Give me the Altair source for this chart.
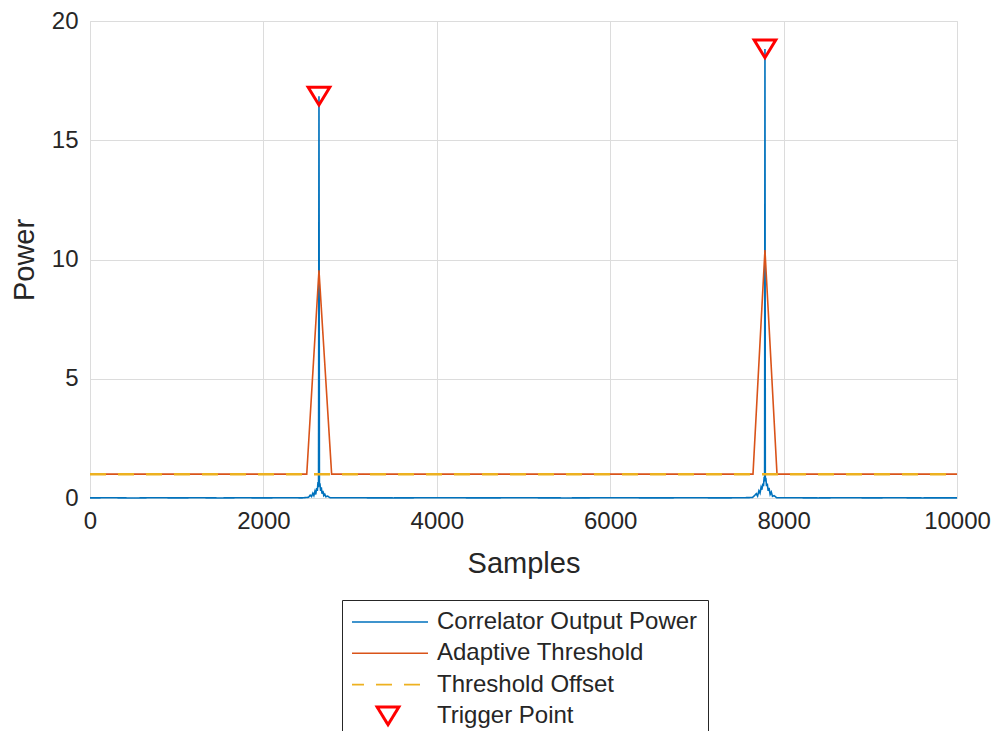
import altair as alt
import pandas as pd

# ---- data ----
SERIES = ["Correlator Output Power", "Adaptive Threshold", "Threshold Offset", "Trigger Point"]
COLORS = ["#0072BD", "#D95319", "#EDB120", "#FF0000"]

# Correlator output power (samples, power)
corr_x = [0, 250, 500, 750, 1000, 1250, 1500, 1750, 2000, 2250, 2450,
          2520, 2540, 2555, 2570, 2582, 2594, 2604, 2614, 2622, 2630, 2636,
          2641,
          2646, 2652, 2660, 2668, 2676, 2686, 2696, 2708, 2720, 2740, 2770,
          3000, 3500, 4000, 4500, 5000, 5500, 6000, 6500, 7000, 7300, 7550, 7640,
          7665, 7685, 7700, 7715, 7728, 7740, 7750, 7760, 7768, 7776, 7781,
          7785,
          7789, 7795, 7803, 7812, 7822, 7832, 7845, 7858, 7872, 7890, 7920,
          8100, 8400, 8700, 9000, 9300, 9600, 10000]
corr_y = [0.005, 0.01, 0.0, 0.012, 0.004, 0.01, 0.002, 0.01, 0.004, 0.012, 0.006,
          0.03, 0.12, 0.06, 0.2, 0.1, 0.28, 0.15, 0.42, 0.3, 0.67, 0.45,
          16.85,
          0.5, 0.62, 0.3, 0.45, 0.18, 0.3, 0.1, 0.16, 0.05, 0.08, 0.01,
          0.01, 0.003, 0.012, 0.005, 0.01, 0.002, 0.012, 0.005, 0.01, 0.004, 0.012, 0.02,
          0.1, 0.18, 0.08, 0.3, 0.2, 0.45, 0.35, 0.6, 0.5, 0.88, 0.7,
          18.83,
          0.75, 0.85, 0.5, 0.6, 0.3, 0.42, 0.15, 0.25, 0.07, 0.1, 0.01,
          0.01, 0.003, 0.012, 0.005, 0.01, 0.003, 0.006]

# Adaptive threshold
thr_x = [0, 2500, 2641, 2787, 7647, 7785, 7924, 10000]
thr_y = [1.0, 1.0, 9.55, 1.0, 1.0, 10.4, 1.0, 1.0]

# Threshold offset
off_x = [0, 10000]
off_y = [1.0, 1.0]

# Trigger points
trig_x = [2641, 7785]
trig_y = [16.85, 18.83]

x_ticks = [0, 2000, 4000, 6000, 8000, 10000]
y_ticks = [0, 5, 10, 15, 20]

corr_df = pd.DataFrame({"x": corr_x, "y": corr_y, "series": SERIES[0]})
thr_df = pd.DataFrame({"x": thr_x, "y": thr_y, "series": SERIES[1]})
off_df = pd.DataFrame({"x": off_x, "y": off_y, "series": SERIES[2]})
trig_df = pd.DataFrame({"x": trig_x, "y": trig_y, "series": SERIES[3]})

FONT = "Liberation Sans"
TXT = "#262626"

# symbol shapes (unit coordinates, scaled by the symbol size)
LINE_SYM = "M -1 0 L 1 0"
TRI_SYM = "M -0.27 -0.22 L 0.27 -0.22 L 0 0.22 Z"
SYM_SIZE = 6400

xenc = alt.X("x:Q", title="Samples",
             scale=alt.Scale(domain=[0, 10000], nice=False, zero=False),
             axis=alt.Axis(values=x_ticks, format="d", grid=True, ticks=False, domain=False,
                           labelFont=FONT, labelFontSize=24, labelColor=TXT, labelPadding=11,
                           titleFont=FONT, titleFontSize=29, titleColor=TXT, titleFontWeight="normal",
                           titlePadding=16, gridColor="#dcdcdc", labelFlush=False))
yenc = alt.Y("y:Q", title="Power",
             scale=alt.Scale(domain=[0, 20], nice=False),
             axis=alt.Axis(values=y_ticks, format="d", grid=True, ticks=False, domain=False,
                           labelFont=FONT, labelFontSize=24, labelColor=TXT, labelPadding=12,
                           titleFont=FONT, titleFontSize=29, titleColor=TXT, titleFontWeight="normal",
                           titlePadding=12, gridColor="#dcdcdc", labelFlush=False))

legend = alt.Legend(title=None, orient="none", legendX=252, legendY=579,
                    labelFont=FONT, labelFontSize=24, labelColor=TXT,
                    labelOffset=37, symbolOffset=24,
                    labelLimit=0,
                    strokeColor=TXT, fillColor="white", padding=10, rowPadding=7.3,
                    clipHeight=24, symbolFillColor="white", symbolSize=SYM_SIZE,
                    symbolStrokeWidth=alt.ExprRef("datum.value === 'Trigger Point' ? 3 : 1.6"))

color = alt.Color("series:N", scale=alt.Scale(domain=SERIES, range=COLORS), legend=legend)
dash = alt.StrokeDash("series:N", scale=alt.Scale(domain=SERIES, range=[[1, 0], [1, 0], [16, 12], [1, 0]]),
                      legend=legend)
shape = alt.Shape("series:N", scale=alt.Scale(domain=SERIES, range=[LINE_SYM, LINE_SYM, LINE_SYM, TRI_SYM]),
                  legend=legend)

corr = alt.Chart(corr_df).mark_line(strokeWidth=1.6).encode(x=xenc, y=yenc, color=color, strokeDash=dash)
thr = alt.Chart(thr_df).mark_line(strokeWidth=1.6).encode(x=xenc, y=yenc, color=color, strokeDash=dash)
off = alt.Chart(off_df).mark_line(strokeWidth=2.5).encode(x=xenc, y=yenc, color=color, strokeDash=dash)
trig = alt.Chart(trig_df).mark_point(filled=False, strokeWidth=3, opacity=1, size=SYM_SIZE).encode(
    x=xenc, y=yenc, color=color, shape=shape)

chart = alt.layer(corr, thr, off, trig).properties(
    width=867, height=477,
    padding={"left": 82, "top": 13, "right": 35, "bottom": 233},
    autosize=alt.AutoSizeParams(type="none"),
).configure_view(stroke="#404040", strokeWidth=1.2).configure(background="white")

chart.save("out.html", embed_options={"renderer": "svg", "actions": False})
